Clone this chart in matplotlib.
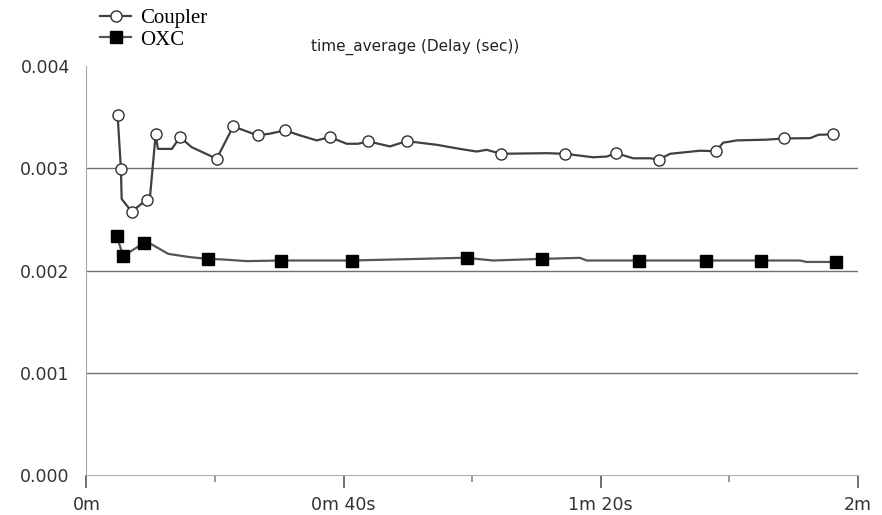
import matplotlib
matplotlib.use("Agg")
import matplotlib.pyplot as plt

# values (time in seconds, delay in seconds)
coupler_t = [4.85, 5.37, 5.48, 7.03, 9.37, 9.88, 10.77, 11.12, 13.3, 14.55, 16.37,
             20.26, 22.84, 26.64, 28.55, 30.89, 33.22, 35.82, 37.89, 40.49, 42.24,
             43.85, 47.22, 49.82, 54.49, 58.1, 60.71, 62.27, 64.5, 71.6, 74.45,
             78.8, 80.94, 82.39, 85.08, 87.7, 89.08, 90.8, 95.46, 97.95, 99.04,
             101.17, 105.8, 108.5, 112.6, 113.9, 116.2]
coupler_y = [0.00352, 0.00299, 0.00270, 0.002577, 0.002692, 0.002715, 0.003332, 0.00319,
             0.00319, 0.003305, 0.003207, 0.003093, 0.00341, 0.003322, 0.003339,
             0.003371, 0.003322, 0.003273, 0.003305, 0.00324, 0.00324, 0.003263,
             0.003214, 0.003266, 0.00323, 0.00319, 0.003164, 0.003181, 0.003142,
             0.003148, 0.003142, 0.003108, 0.003115, 0.003148, 0.003098, 0.003098,
             0.003086, 0.003142, 0.003172, 0.003167, 0.00325, 0.003273, 0.00328,
             0.003292, 0.003295, 0.003328, 0.003332]
coupler_marks = [0, 1, 3, 4, 6, 9, 11, 12, 13, 15, 18, 21, 23, 28, 30, 33, 36, 39, 43, 46]

oxc_t = [4.70, 5.73, 8.99, 10.14, 12.73, 16.1, 18.95, 21.29, 24.93, 30.26, 41.26,
         58.3, 59.16, 63.25, 70.83, 76.78, 77.83, 86.01, 96.35, 104.95, 111.0,
         112.06, 116.57]
oxc_y = [0.002338, 0.002141, 0.002272, 0.002256, 0.002163, 0.002131, 0.002114,
         0.002108, 0.002092, 0.002098, 0.002098, 0.002124, 0.002124, 0.002098,
         0.002114, 0.002124, 0.002098, 0.002098, 0.002098, 0.002098, 0.002098,
         0.002084, 0.002084]
oxc_marks = [0, 1, 2, 6, 9, 10, 12, 14, 17, 18, 19, 22]

x_ticks = [0, 40, 80, 120]
x_labels = ["0m", "0m 40s", "1m 20s", "2m"]
y_ticks = [0.000, 0.001, 0.002, 0.003, 0.004]
y_labels = ["0.000", "0.001", "0.002", "0.003", "0.004"]

fig = plt.figure(figsize=(8.82, 5.15), dpi=100)
ax = fig.add_axes([0.098, 0.0777, 0.8745, 0.794])

ax.plot(coupler_t, coupler_y, color="#404040", lw=1.6, marker="o", ms=8,
        mfc="white", mec="#303030", mew=1.0, markevery=coupler_marks, label="Coupler")
ax.plot(oxc_t, oxc_y, color="#555555", lw=1.6, marker="s", ms=9,
        mfc="black", mec="black", markevery=oxc_marks, label="OXC")

ax.set_xlim(0, 120)
ax.set_ylim(0, 0.004)
ax.set_xticks(x_ticks)
ax.set_xticklabels(x_labels)
ax.set_xticks([20, 60, 100], minor=True)
ax.set_yticks(y_ticks)
ax.set_yticklabels(y_labels)

for v in y_ticks[1:4]:
    ax.axhline(v, color="#707070", lw=1.0, zorder=0)

for s in ["top", "right"]:
    ax.spines[s].set_visible(False)
ax.spines["left"].set_color("#a8a8a8")
ax.spines["bottom"].set_color("#b0b0b0")
ax.tick_params(axis="y", length=0, pad=12, labelsize=12.5, labelcolor="#333333")
ax.tick_params(axis="x", which="major", length=9, width=1.2, color="#555555",
               pad=6, labelsize=12.5, labelcolor="#333333")
ax.tick_params(axis="x", which="minor", length=5, width=1.2, color="#888888")

fig.text(415 / 882, 1 - 47 / 515, "time_average (Delay (sec))", fontsize=11,
         color="#222222", ha="center", va="center")

fig.legend(loc="upper left", bbox_to_anchor=(0.104, 1.0), frameon=False,
           prop={"family": "Liberation Serif", "size": 15}, handlelength=1.5,
           handletextpad=0.4, labelspacing=0.1, borderaxespad=0.0)

fig.savefig("out.png", dpi=100)
